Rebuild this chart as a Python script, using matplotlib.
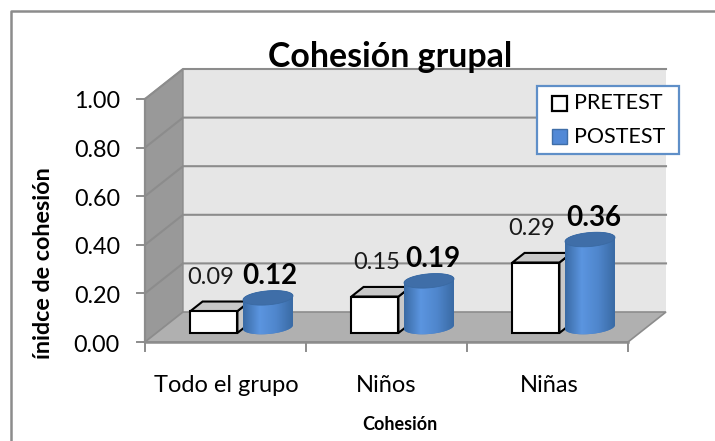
import matplotlib
matplotlib.use("Agg")
import matplotlib.pyplot as plt
import numpy as np
from matplotlib.patches import Polygon, Rectangle
from matplotlib.colors import LinearSegmentedColormap

categories = ["Todo el grupo", "Niños", "Niñas"]
pretest = [0.09, 0.15, 0.29]
postest = [0.12, 0.19, 0.36]
y_ticks = [0.0, 0.2, 0.4, 0.6, 0.8, 1.0]

W, H = 715, 441
plt.rcParams['font.family'] = ['Lato', 'DejaVu Sans']
fig = plt.figure(figsize=(W/100, H/100), dpi=100)
fig.patch.set_facecolor('white')
fig.add_artist(plt.Line2D([10.5/W, 10.5/W, 1], [0, 1-11/H, 1-11/H], transform=fig.transFigure,
                          color='#8c8c8c', lw=1.8, zorder=-1))

L, R, T, B = 145, 628, 99, 342
ax = fig.add_axes([L/W, 1-B/H, (R-L)/W, (B-T)/H])
ax.set_xlim(0, 3); ax.set_ylim(0, 1)
ax.axis('off')
DX = 38*3/(R-L); DY = 30/(B-T)
ux = 3/(R-L); uy = 1/(B-T)
def P(x, y, d=0.0):
    return (x + d*DX, y + d*DY)
def poly(pts, **kw):
    p = Polygon(pts, closed=True, clip_on=False, **kw)
    ax.add_patch(p)
    return p

# walls and floor
poly([P(0,0,1), P(3,0,1), P(3,1,1), P(0,1,1)], fc='#e6e6e6', ec='none', zorder=1)
poly([P(0,0,0), P(0,0,1), P(0,1,1), P(0,1,0)], fc='#999999', ec='#8c8c8c', lw=1, zorder=1)
for t in y_ticks[1:]:
    a, b, c = P(0,t,0), P(0,t,1), P(3,t,1)
    ax.plot([a[0], b[0], c[0]], [a[1], b[1], c[1]], color='#8c8c8c', lw=1.5, zorder=1.2, clip_on=False)
poly([P(0,0,0), P(3,0,0), P(3,0,1), P(0,0,1)], fc='#b0b0b0', ec='#8c8c8c', lw=1.2, zorder=1.5)
ax.plot(*zip(P(0,0,0), P(0,1,0)), color='#8c8c8c', lw=1.6, clip_on=False, zorder=2)
ax.plot([0, 3], [0, 0], color='#8c8c8c', lw=1.8, clip_on=False, zorder=2)
for t in y_ticks:
    ax.plot([-8*ux, 0], [t, t], color='#8c8c8c', lw=1.4, clip_on=False)
    ax.text(-25*ux, t - 3*uy, f"{t:.2f}", ha='right', va='center', fontsize=16.8, color='black')
for i in range(4):
    ax.plot([i, i], [0, -9*uy], color='#8c8c8c', lw=1.4, clip_on=False)

blue = LinearSegmentedColormap.from_list('b', ['#3a6ba5', '#5b95e0', '#4f86cc', '#3a6ba5'])
pre_lab_x = [210.5, 377, 532]
post_lab_x = [270, 433, 594]
cat_x = [226, 386, 549]

def ellipse_pts(cx, cy, w, eh, n=60, start=0.0, stop=2*np.pi):
    t = np.linspace(start, stop, n)
    xs = cx + w/2*np.cos(t)
    ys = cy + eh/2*np.sin(t) + 4*uy/(50*ux)*(xs - cx)
    return np.column_stack([xs, ys])

for i, cat in enumerate(categories):
    # pretest box
    x0 = i + 34*ux; x1 = x0 + 47*ux; dp = 0.30; d2 = 0.62
    h = pretest[i]
    kw = dict(ec='black', lw=1.5, zorder=3 + i)
    poly([P(x1,0,dp), P(x1,0,d2), P(x1,h,d2), P(x1,h,dp)], fc='#c8c8c8', **kw)
    poly([P(x0,h,dp), P(x1,h,dp), P(x1,h,d2), P(x0,h,d2)], fc='#c8c8c8', **kw)
    poly([P(x0,0,dp), P(x1,0,dp), P(x1,h,dp), P(x0,h,dp)], fc='white', **kw)
    # postest cylinder
    cw = 50*ux; dc = 0.5
    cx0 = i + 79*ux
    hv = postest[i]
    bx, by = P(cx0, 0, dc); tx, ty = P(cx0, hv, dc)
    eh = 14*uy
    top = ellipse_pts(tx+cw/2, ty, cw, eh)
    lower = ellipse_pts(bx+cw/2, by, cw, eh, start=np.pi, stop=2*np.pi)
    upper = ellipse_pts(tx+cw/2, ty, cw, eh, start=0, stop=np.pi)
    outline = poly(np.vstack([lower, upper]), fc='#4a7fc2', ec='none', zorder=3.5+i)
    im = ax.imshow(np.linspace(0, 1, 64).reshape(1, -1), cmap=blue,
                   extent=[bx, bx+cw, by-eh, ty+eh], aspect='auto', zorder=3.55+i)
    im.set_clip_path(outline)
    poly(top, fc='#3f6ea8', ec='#3a6aa3', lw=0.6, zorder=3.6+i)
    # texts
    ax.text((cat_x[i]-L)*ux, -43*uy, cat, ha='center', va='center', fontsize=17)
    ax.text((pre_lab_x[i]-L)*ux, h + 43*uy, f"{h:.2f}", ha='center', va='center', fontsize=17, zorder=9, color='#1a1a1a')
    ax.text((post_lab_x[i]-L)*ux, hv + 37*uy, f"{hv:.2f}", ha='center', va='center', fontsize=20,
            fontweight='bold', zorder=9)
ax.set_xlim(0, 3); ax.set_ylim(0, 1)

fig.text(390/W, 1-57/H, "Cohesión grupal", ha='center', va='center', fontsize=24.4, fontweight='bold')
fig.text(44/W, 1-263/H, "ínidce de cohesión", rotation=90, ha='center', va='center',
         fontsize=16.8, fontweight='bold')
fig.text(400/W, 1-425/H, "Cohesión", ha='center', va='center', fontsize=13, fontweight='bold')

# legend
fig.add_artist(Rectangle((537/W, 1-154/H), 142/W, 68/H, transform=fig.transFigure,
                         fc='white', ec='#5f8fc8', lw=1.6, zorder=20))
fig.add_artist(Rectangle((552/W, 1-111/H), 15/W, 15/H, transform=fig.transFigure,
                         fc='white', ec='black', lw=1.6, zorder=21))
fig.add_artist(Rectangle((552/W, 1-144/H), 15/W, 15/H, transform=fig.transFigure,
                         fc='#5289d6', ec='#3f6ea8', lw=1, zorder=21))
for y, s in zip([103, 137], ["PRETEST", "POSTEST"]):
    fig.text(574/W, 1-y/H, s, ha='left', va='center', fontsize=15.5, zorder=22)

fig.savefig("out.png", dpi=100)
